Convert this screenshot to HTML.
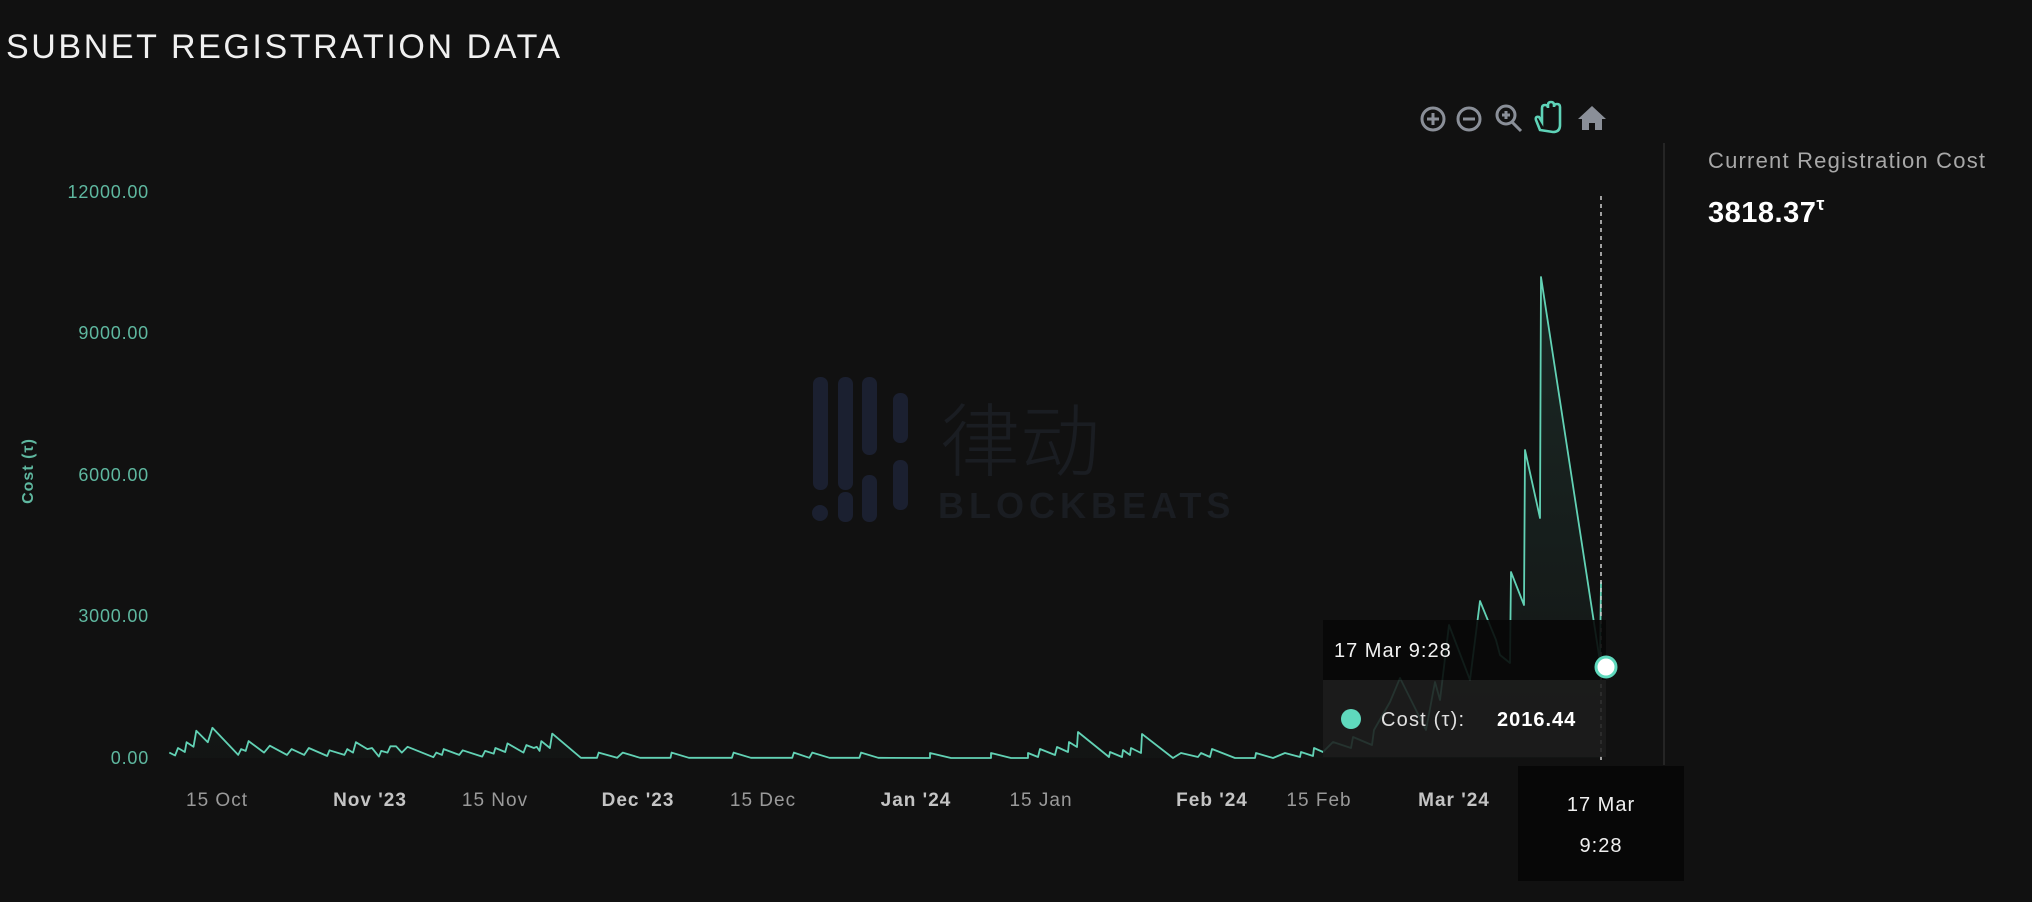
<!DOCTYPE html>
<html><head><meta charset="utf-8">
<style>
html,body{margin:0;padding:0;background:#111111;width:2032px;height:902px;overflow:hidden;font-family:"Liberation Sans","Noto Sans CJK SC",sans-serif;}
</style></head>
<body>
<svg id="s" width="2032" height="902" xmlns="http://www.w3.org/2000/svg" style="position:absolute;left:0;top:0">
<defs>
<linearGradient id="g" x1="0" y1="0" x2="0" y2="1">
<stop offset="0" stop-color="#62d2b5" stop-opacity="0.12"/>
<stop offset="1" stop-color="#62d2b5" stop-opacity="0.02"/>
</linearGradient>
</defs>
<rect width="2032" height="902" fill="#111111"/>
<text x="6" y="58" fill="#f0f0f0" font-size="34" letter-spacing="2.6">SUBNET REGISTRATION DATA</text>

<!-- watermark -->
<g fill="#1b2030">
<rect x="813" y="377" width="15" height="113" rx="7"/>
<rect x="838" y="377" width="15" height="113" rx="7"/>
<rect x="862" y="377" width="15" height="78" rx="7"/>
<rect x="893" y="393" width="15" height="50" rx="7"/>
<rect x="838" y="492" width="15" height="30" rx="7"/>
<rect x="862" y="475" width="15" height="47" rx="7"/>
<rect x="893" y="460" width="15" height="50" rx="7"/>
<circle cx="820" cy="513" r="8"/>
</g>
<text x="940" y="470" fill="#1a1d22" font-size="80" font-family="Noto Sans CJK SC,sans-serif" font-weight="300">律动</text>
<text x="938" y="518" fill="#1a1d22" font-size="36" letter-spacing="5" font-weight="bold">BLOCKBEATS</text>

<!-- y axis -->
<g fill="#5fb8a0" font-size="18" text-anchor="end" letter-spacing="0.8">
<text x="149" y="198">12000.00</text>
<text x="149" y="339">9000.00</text>
<text x="149" y="481">6000.00</text>
<text x="149" y="622">3000.00</text>
<text x="149" y="764">0.00</text>
</g>
<text transform="translate(33,471) rotate(-90)" fill="#5fb8a0" font-size="16" text-anchor="middle" font-weight="bold" letter-spacing="1">Cost (τ)</text>

<!-- x axis -->
<g font-size="19" text-anchor="middle" letter-spacing="1">
<text x="217" y="806" fill="#9a9a9a">15 Oct</text>
<text x="370" y="806" fill="#c4c4c4" font-weight="bold">Nov '23</text>
<text x="495" y="806" fill="#9a9a9a">15 Nov</text>
<text x="638" y="806" fill="#c4c4c4" font-weight="bold">Dec '23</text>
<text x="763" y="806" fill="#9a9a9a">15 Dec</text>
<text x="916" y="806" fill="#c4c4c4" font-weight="bold">Jan '24</text>
<text x="1041" y="806" fill="#9a9a9a">15 Jan</text>
<text x="1212" y="806" fill="#c4c4c4" font-weight="bold">Feb '24</text>
<text x="1319" y="806" fill="#9a9a9a">15 Feb</text>
<text x="1454" y="806" fill="#c4c4c4" font-weight="bold">Mar '24</text>
</g>

<!-- toolbar -->
<g stroke="#8a8f98" stroke-width="3" fill="none">
<circle cx="1433" cy="119" r="11"/><path d="M1427 119h12M1433 113v12"/>
<circle cx="1469" cy="119" r="11"/><path d="M1463 119h12"/>
<circle cx="1506" cy="115" r="9"/><path d="M1512 122l9 9M1502 115h8M1506 111v8"/>
</g>
<path d="M1540 130 l-4 -10 q-1 -4 3 -3 l3 5 v-14 q0 -3 3 -3 q3 0 3 3 v-3 q0 -3 3 -3 q3 0 3 3 v2 q0 -3 3 -3 q3 0 3 3 v18 q0 7 -7 7 z" fill="none" stroke="#5fd3b8" stroke-width="2.6"/>
<path d="M1592 106 l-14 13 h4 v11 h7 v-7 h6 v7 h7 v-11 h4 z" fill="#8a8f98"/>

<!-- separator -->
<line x1="1664" y1="143" x2="1664" y2="765" stroke="#2c2c2c" stroke-width="1.5"/>
<text x="1708" y="168" fill="#a8a8a8" font-size="22" letter-spacing="1.2">Current Registration Cost</text>
<text x="1708" y="222" fill="#ffffff" font-size="29" font-weight="bold" letter-spacing="0.5">3818.37<tspan font-size="18" dy="-12">τ</tspan></text>

<path id="fill" fill="url(#g)"/>
<path id="line" fill="none" stroke="#62d2b5" stroke-width="1.8" stroke-linejoin="round"/>

<line x1="1601" y1="196" x2="1601" y2="764" stroke="#cfcfcf" stroke-width="1.5" stroke-dasharray="4,4"/>

<!-- tooltip -->
<rect x="1323" y="620" width="283" height="60" fill="#080808" fill-opacity="0.9"/>
<rect x="1323" y="680" width="283" height="77" fill="#1c1c1c" fill-opacity="0.88"/>
<text x="1334" y="657" fill="#f2f2f2" font-size="20" letter-spacing="1">17 Mar 9:28</text>
<circle cx="1351" cy="719" r="10" fill="#5fd9bd"/>
<text x="1381" y="726" fill="#e0e0e0" font-size="20" letter-spacing="1.2">Cost (τ):</text>
<text x="1497" y="726" fill="#ffffff" font-size="20" font-weight="bold" letter-spacing="1">2016.44</text>
<circle cx="1606" cy="667" r="10" fill="#ffffff" stroke="#5fd9bd" stroke-width="3"/>

<rect x="1518" y="766" width="166" height="115" fill="#070707"/>
<text x="1601" y="811" fill="#f0f0f0" font-size="20" text-anchor="middle" letter-spacing="1">17 Mar</text>
<text x="1601" y="852" fill="#f0f0f0" font-size="20" text-anchor="middle" letter-spacing="1">9:28</text>
</svg>
<script>
var a=[[295,1308],[305,1313],[310,1300],[322,1307],[325,1290],[337,1298],[342,1270],[362,1290],[370,1265],[415,1312],[420,1302],[428,1305],[433,1288],[460,1308],[470,1296],[500,1312],[508,1302],[530,1312],[538,1300],[570,1314],[574,1304],[600,1312],[605,1302],[615,1308],[620,1290],[640,1302],[648,1300],[660,1315],[664,1305],[675,1308],[680,1297],[690,1297],[700,1308],[710,1298],[755,1316],[760,1308],[770,1312],[773,1302],[800,1312],[806,1304],[840,1315],[845,1305],[860,1310],[863,1300],[880,1307],[884,1292],[912,1308],[917,1295],[930,1300],[935,1298],[940,1305],[943,1288],[958,1300],[962,1275],[1012,1317],[1040,1317],[1043,1308],[1075,1317],[1085,1308],[1115,1317],[1168,1317],[1170,1308],[1200,1317],[1275,1317],[1278,1308],[1308,1317],[1380,1317],[1383,1308],[1410,1317],[1415,1308],[1445,1317],[1497,1317],[1500,1308],[1530,1317]];
var p=a.map(function(q){return [q[0]/1.742,q[1]/1.738];});
var b=[[930,758],[930,753],[951,758],[991,758],[991,753],[1011,758],[1028,758],[1028,753],[1038,757],[1040,749],[1055,755],[1057,747],[1068,752],[1069,742],[1077,747],[1078,732],[1109,757],[1110,752],[1122,757],[1123,750],[1130,755],[1131,748],[1141,753],[1142,734],[1173,758],[1181,753],[1198,757],[1201,753],[1210,757],[1212,749],[1235,758],[1255,758],[1256,753],[1273,758],[1285,753],[1300,757],[1301,752],[1313,756],[1314,748],[1323,752],[1333,742],[1351,748],[1353,737],[1372,745],[1374,730],[1390,702],[1400,678],[1426,730],[1435,682],[1440,700],[1449,625],[1470,680],[1480,601],[1496,640],[1500,655],[1510,663],[1511,572],[1524,605],[1525,450],[1540,518],[1541,277],[1600,662],[1601,582]];
p=p.concat(b);
var d="M"+p.map(function(q){return q[0].toFixed(1)+" "+q[1].toFixed(1);}).join(" L");
document.getElementById("line").setAttribute("d",d);
document.getElementById("fill").setAttribute("d",d+" L1601 758 L"+p[0][0].toFixed(1)+" 758 Z");
</script>
</body></html>
